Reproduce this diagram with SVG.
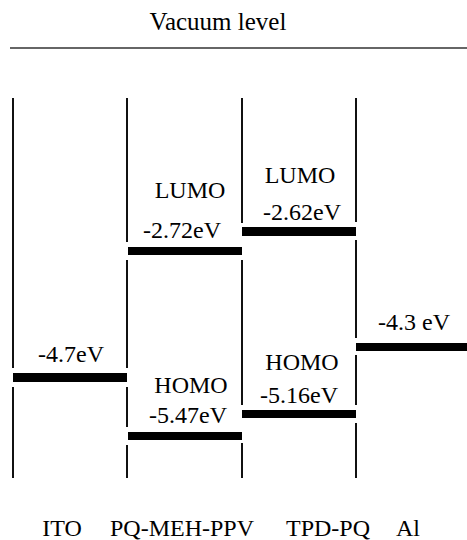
<svg xmlns="http://www.w3.org/2000/svg" width="467" height="540" viewBox="0 0 467 540">
<style>
text { font-family: "Liberation Serif", "Times New Roman", serif; font-size: 24px; fill: #000; text-anchor: middle; }
.col { stroke: #111; stroke-width: 2; fill: none; }
.bar { fill: #000; }
.vac { stroke: #333; stroke-width: 1.5; }
</style>
<rect width="467" height="540" fill="#fff"/>
<g id="vacuum">
  <text x="218" y="30" style="font-size:25px">Vacuum level</text>
  <line class="vac" x1="10" y1="48" x2="467" y2="48"/>
</g>
<g id="connectors">
  <path class="col" d="M13,98 V368 M13,387 V478"/>
  <path class="col" d="M127,98 V242 M127,260 V368 M127,387 V427 M127,445 V478"/>
  <path class="col" d="M242,98 V223 M242,260 V405 M242,443 V478"/>
  <path class="col" d="M356,98 V222 M356,240 V338 M356,355 V405 M356,423 V478"/>
</g>
<g id="ito-level">
  <rect class="bar" x="13" y="373" width="114" height="9"/>
  <text x="71" y="362">-4.7eV</text>
</g>
<g id="pq-lumo">
  <rect class="bar" x="128" y="247" width="114" height="8"/>
  <text x="190" y="198">LUMO</text>
  <text x="182" y="238">-2.72eV</text>
</g>
<g id="pq-homo">
  <rect class="bar" x="128" y="432" width="114" height="8"/>
  <text x="191" y="393">HOMO</text>
  <text x="188" y="423">-5.47eV</text>
</g>
<g id="tpd-lumo">
  <rect class="bar" x="242" y="227" width="114" height="9"/>
  <text x="300" y="183">LUMO</text>
  <text x="302" y="220">-2.62eV</text>
</g>
<g id="tpd-homo">
  <rect class="bar" x="242" y="410" width="114" height="8"/>
  <text x="302" y="370">HOMO</text>
  <text x="299" y="403">-5.16eV</text>
</g>
<g id="al-level">
  <rect class="bar" x="356" y="343" width="111" height="8"/>
  <text x="414" y="330">-4.3 eV</text>
</g>
<g id="labels">
  <text x="62" y="536">ITO</text>
  <text x="182" y="536">PQ-MEH-PPV</text>
  <text x="328" y="536">TPD-PQ</text>
  <text x="408" y="536">Al</text>
</g>
</svg>
